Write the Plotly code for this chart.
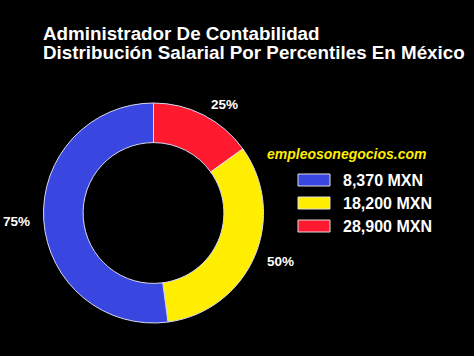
import math
import plotly.graph_objects as go

# Data
salaries = [8370, 18200, 28900]
percentile_labels = ["25%", "50%", "75%"]
slice_colors = ["#ff1a30", "#ffee00", "#3a46e0"]
legend_labels = ["8,370 MXN", "18,200 MXN", "28,900 MXN"]
legend_colors = ["#3a46e0", "#ffee00", "#ff1a30"]
title_lines = ["Administrador De Contabilidad",
               "Distribución Salarial Por Percentiles En México"]
site = "empleosonegocios.com"

W, H = 474, 356
cx, cy, R = 153.5, 213, 110
FONT = "Liberation Sans, Arial"

fig = go.Figure()
fig.add_trace(go.Pie(
    values=salaries,
    textinfo="none",
    sort=False,
    direction="clockwise",
    rotation=0,
    hole=0.64,
    marker=dict(colors=slice_colors, line=dict(color="#d8d8f0", width=1)),
    showlegend=False,
    hoverinfo="skip",
    domain=dict(x=[(cx - R) / W, (cx + R) / W],
                y=[(H - cy - R) / H, (H - cy + R) / H]),
))

annotations = []
for i, line in enumerate(title_lines):
    annotations.append(dict(text="<b>" + line + "</b>", x=41 / W, y=1 - (33 + 19 * i) / H,
                            xref="paper", yref="paper", xanchor="left", yanchor="middle",
                            showarrow=False, font=dict(family=FONT, size=18.8, color="white")))
annotations.append(dict(text="<b><i>" + site + "</i></b>", x=265 / W, y=1 - 154 / H,
                        xref="paper", yref="paper", xanchor="left", yanchor="middle",
                        showarrow=False, font=dict(family=FONT, size=14, color="#ffee00")))

# outside percentile labels placed at each slice's mid-angle
total = sum(salaries)
cum = 0
for v, lab in zip(salaries, percentile_labels):
    mid = (cum + v / 2) / total * 2 * math.pi
    cum += v
    r = 122
    px = cx + r * math.sin(mid)
    py = cy - r * math.cos(mid)
    s = math.sin(mid)
    xa = "left" if s > 0.3 else ("right" if s < -0.3 else "center")
    c = math.cos(mid)
    ya = "bottom" if c > 0.9 else ("top" if c < -0.9 else "middle")
    annotations.append(dict(text="<b>" + lab + "</b>", x=px / W, y=1 - py / H,
                            xref="paper", yref="paper", xanchor=xa, yanchor=ya,
                            showarrow=False,
                            font=dict(family=FONT, size=13.5, color="white")))

shapes = []
for i, (lab, col) in enumerate(zip(legend_labels, legend_colors)):
    yc = 180 + 23 * i
    shapes.append(dict(type="rect", xref="paper", yref="paper",
                       x0=298 / W, x1=330 / W, y0=1 - (yc - 6) / H, y1=1 - (yc + 6) / H,
                       fillcolor=col, line=dict(color="#dddddd", width=1)))
    annotations.append(dict(text="<b>" + lab + "</b>", x=341 / W, y=1 - yc / H,
                            xref="paper", yref="paper", xanchor="left", yanchor="middle",
                            showarrow=False,
                            font=dict(family=FONT, size=16, color="white")))

fig.update_layout(
    width=W, height=H,
    margin=dict(l=0, r=0, t=0, b=0),
    paper_bgcolor="black", plot_bgcolor="black",
    annotations=annotations, shapes=shapes,
)
fig.write_html("out.html", config={"displayModeBar": False},
               post_script="document.body.style.margin='0';document.body.style.overflow='hidden';")
